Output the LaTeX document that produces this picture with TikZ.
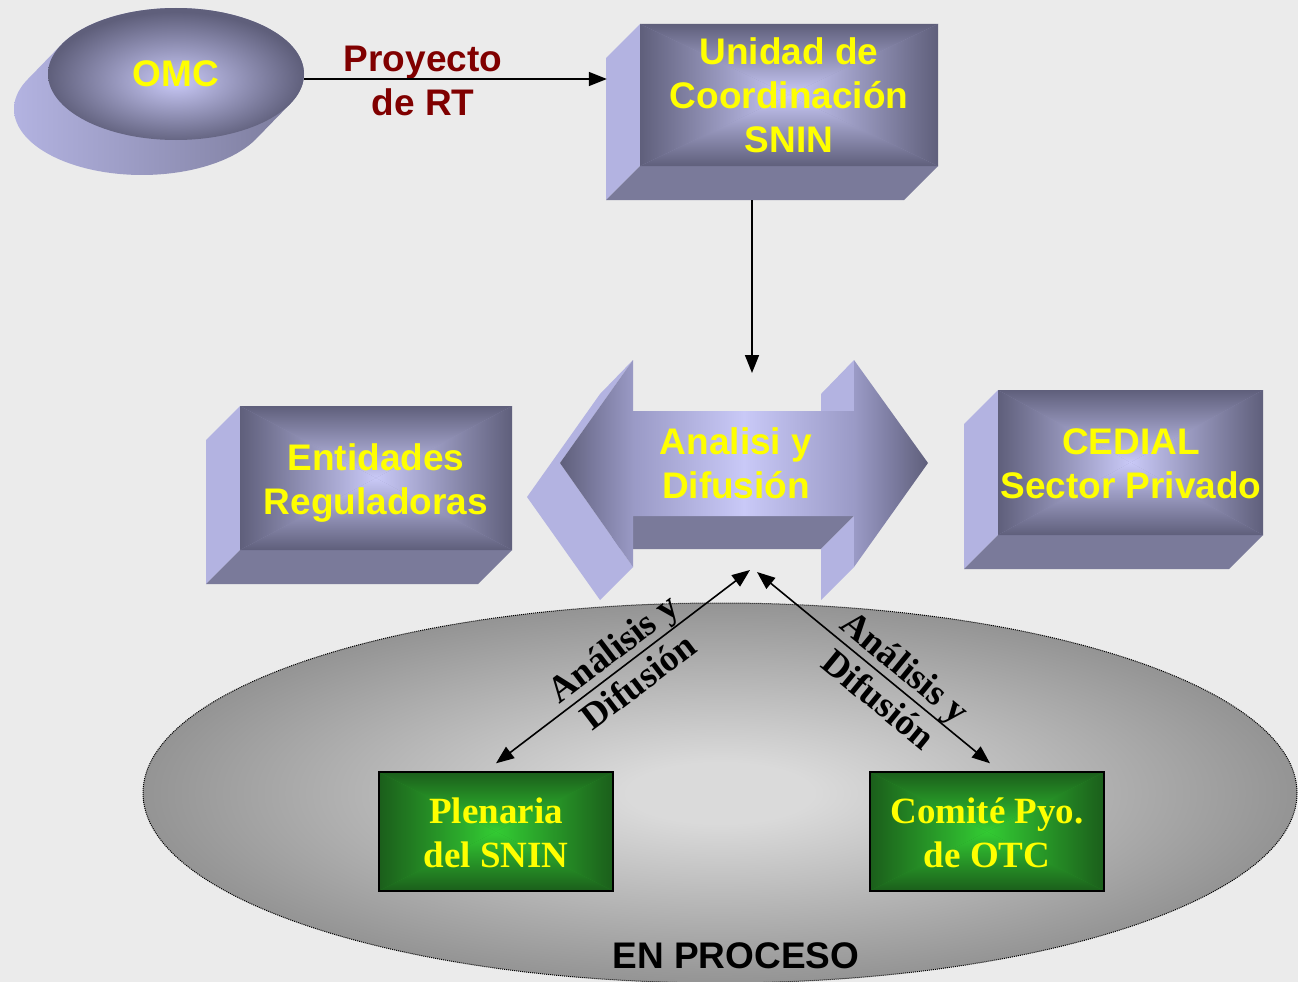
\documentclass[tikz,border=0pt]{standalone}
\usepackage{fontspec}
\setmainfont{Liberation Sans}
\newfontfamily\tnrfont{Liberation Serif}
\usetikzlibrary{arrows.meta,shapes.geometric}
\definecolor{bg}{HTML}{EBEBEB}
\definecolor{fdark}{HTML}{5F5F7B}
\definecolor{fmid}{HTML}{9A9AC6}
\definecolor{flight}{HTML}{C9C9F7}
\definecolor{sidel}{HTML}{B3B3E1}
\definecolor{sided}{HTML}{7A7A9A}
\definecolor{gdark}{HTML}{1B5E1B}
\definecolor{glight}{HTML}{33CC33}
\definecolor{yel}{HTML}{FFFF00}
\definecolor{dred}{HTML}{800000}
\definecolor{gin}{HTML}{DADADA}
\definecolor{gout}{HTML}{949494}
\pgfdeclareradialshading{ellgray}{\pgfpoint{0bp}{0bp}}{color(0bp)=(gin); color(4bp)=(gin); color(25bp)=(gout); color(50bp)=(gout)}
\pgfdeclareradialshading{omctop}{\pgfpoint{0bp}{-3bp}}{color(0bp)=(flight); color(25bp)=(fdark); color(50bp)=(fdark)}
\pgfdeclarehorizontalshading{arrsh}{100bp}{color(0bp)=(fdark); color(25bp)=(fdark); color(35bp)=(fmid); color(50bp)=(flight); color(65bp)=(fmid); color(75bp)=(fdark); color(100bp)=(fdark)}
% pyramid (rectangular from-centre) gradient: x1 y1 x2 y2 inner outer
\newcommand\pyrfill[6]{%
  \pgfmathsetmacro\pyrcx{(#1+#3)/2}\pgfmathsetmacro\pyrcy{(#2+#4)/2}%
  \fill[#5!50!#6] (#1,#2) rectangle (#3,#4);
  \shade[top color=#6, bottom color=#5] (#1,#2) -- (#3,#2) -- (\pyrcx,\pyrcy) -- cycle;
  \shade[top color=#5, bottom color=#6] (#1,#4) -- (#3,#4) -- (\pyrcx,\pyrcy) -- cycle;
  \shade[left color=#6, right color=#5] (#1,#2) -- (#1,#4) -- (\pyrcx,\pyrcy) -- cycle;
  \shade[left color=#5, right color=#6] (#3,#2) -- (#3,#4) -- (\pyrcx,\pyrcy) -- cycle;}
% extruded box: x1 y1 x2 y2 (front face)
\newcommand\extbox[4]{%
  \fill[sidel] (#1,#2) -- ({#1-34},{#2+34}) -- ({#1-34},{#4+34}) -- (#1,#4) -- cycle;
  \fill[sided] (#1,#4) -- (#3,#4) -- ({#3-34},{#4+34}) -- ({#1-34},{#4+34}) -- cycle;
  \pyrfill{#1}{#2}{#3}{#4}{flight}{fdark}}
\begin{document}
\begin{tikzpicture}[x=1pt,y=-1pt,
  ytxt/.style={font=\bfseries\fontsize{37}{44}\selectfont, text=yel, align=center, inner sep=0pt},
  gtxt/.style={font=\tnrfont\bfseries\fontsize{37}{44}\selectfont, text=yel, align=center, inner sep=0pt},
  lab2/.style={font=\tnrfont\bfseries\fontsize{37}{42}\selectfont, text=black, align=center, inner sep=0pt},
  arr/.style={line width=1.6pt, -{Triangle[length=18pt,width=14pt]}},
  darr/.style={line width=1.6pt, {Triangle[length=18pt,width=14pt]}-{Triangle[length=18pt,width=14pt]}},
  gbox/.style={draw=black, line width=2pt}]
\useasboundingbox (0,0) rectangle (1298,982);
\clip (0,0) rectangle (1298,982);
\fill[bg] (0,0) rectangle (1298,982);

% EN PROCESO ellipse
\node[ellipse, minimum width=1154pt, minimum height=380pt, inner sep=0pt, shade, shading=ellgray,
      draw=black, line width=1pt, dash pattern=on 1pt off 1pt] (proc) at (720,793) {};
\node[font=\bfseries\fontsize{37}{44}\selectfont, text=black, inner sep=0pt] (enp) at (736,956) {EN PROCESO};

% OMC cylinder
\shade[left color=sidel, right color=sided]
  plot[domain=27.3:207.3, samples=60] ({142+128*cos(\x)},{109+66*sin(\x)}) --
  plot[domain=207.3:387.3, samples=60] ({176+128*cos(\x)},{74+66*sin(\x)}) -- cycle;
\node[ellipse, minimum width=256pt, minimum height=132pt, inner sep=0pt, shade, shading=omctop, ytxt] (omc) at (176,74) {OMC};

% Unidad de Coordinacion box
\extbox{640}{24}{938}{166}
\node[ytxt, minimum width=298pt, minimum height=142pt] (unidad) at (789,95) {Unidad de\\Coordinación\\SNIN};

% Entidades box
\extbox{240}{406}{512}{550}
\node[ytxt, minimum width=272pt, minimum height=144pt] (ent) at (376,483) {Entidades\\Reguladoras};

% CEDIAL box
\extbox{998}{390}{1263}{535}
\node[ytxt, minimum width=265pt, minimum height=145pt] (ced) at (1131,464) {CEDIAL\\Sector Privado};

% Analisi y Difusion double arrow
\fill[sided] (633,516) -- (854,516) -- (821,549) -- (600,549) -- cycle;
\fill[sidel] (854,360) -- (821,394) -- (821,411) -- (854,411) -- cycle;
\fill[sidel] (854,516) -- (854,567) -- (821,600) -- (821,549) -- cycle;
\fill[sidel] (633,360) -- (560,463) -- (633,567) -- (600,600) -- (527,497) -- (600,394) -- cycle;
\shade[shading=arrsh] (560,463) -- (633,360) -- (633,411) -- (854,411) -- (854,360) -- (928,463)
  -- (854,567) -- (854,516) -- (633,516) -- (633,567) -- cycle;
\node[ytxt] (anal) at (736,463) {Analisi y\\Difusión};

% green boxes
\pyrfill{379}{772}{613}{891}{glight}{gdark}
\draw[gbox] (379,772) rectangle (613,891);
\node[gtxt, minimum width=234pt, minimum height=119pt] (plen) at (496,832.5) {Plenaria\\del SNIN};
\pyrfill{870}{772}{1104}{891}{glight}{gdark}
\draw[gbox] (870,772) rectangle (1104,891);
\node[gtxt, minimum width=234pt, minimum height=119pt] (com) at (987,832.5) {Comité Pyo.\\de OTC};

% Proyecto de RT
\node[font=\bfseries\fontsize{37}{44}\selectfont, text=dred, align=center, inner sep=0pt] (proy) at (423,81) {Proyecto\\de RT};

% connectors
\coordinate (dtip) at (752,373);
\coordinate (ltip) at (750,570);
\coordinate (rtip) at (757,572);
\draw[arr] ([yshift=-5pt]omc.east) -- ([xshift=-33pt,yshift=-5pt]omc.east -| unidad.west);
\draw[arr] ([xshift=-37pt,yshift=-34pt]unidad.south) -- (dtip);
\draw[darr] (ltip) -- ([yshift=9.5pt]plen.north) node[pos=0.49, sloped, lab2] {Análisis y\\Difusión};
\draw[darr] (rtip) -- ([xshift=3pt,yshift=9.5pt]com.north) node[pos=0.58, sloped, lab2] {Análisis y\\Difusión};
\end{tikzpicture}
\end{document}
